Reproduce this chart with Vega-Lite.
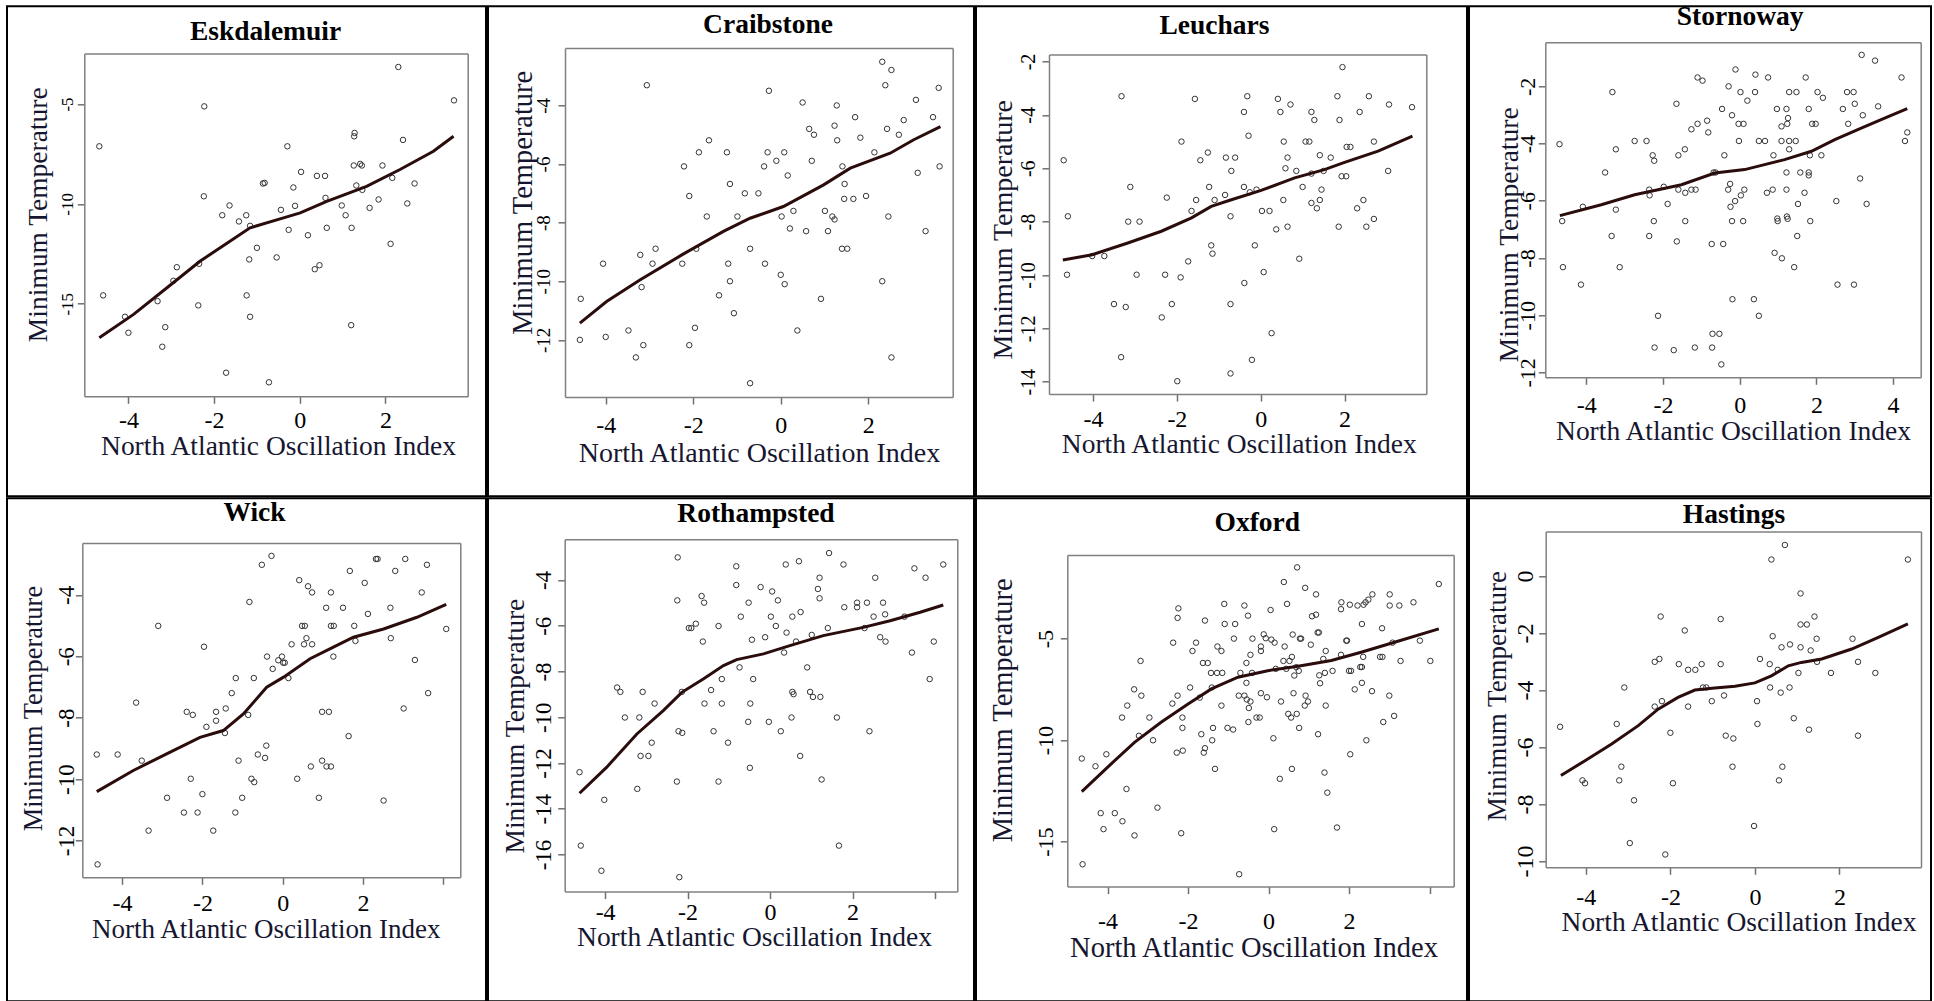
{
"$schema": "https://vega.github.io/schema/vega-lite/v6.json",
"padding": {"left": 6, "top": 1.3, "right": 2, "bottom": 0},
"background": "white",
"spacing": 0,
"config": {
 "view": {"stroke": "#000", "strokeWidth": 2},
 "font": "Liberation Serif",
 "axis": {"grid": false, "domainColor": "#808080", "domainWidth": 1.5, "tickColor": "#707070", "tickWidth": 1.5, "tickSize": 7, "labelFont": "Liberation Serif", "labelColor": "#000", "titleFont": "Liberation Serif", "titleFontWeight": "normal", "titleColor": "#161630", "labelOverlap": false, "labelFlush": false}
},
"datasets": {
 "p1_pts": [{"nao":-4.68,"tmin":-7.12},{"nao":-4.59,"tmin":-14.58},{"nao":-2.23,"tmin":-5.12},{"nao":-2.24,"tmin":-9.62},{"nao":2.30,"tmin":-3.15},{"nao":3.60,"tmin":-4.82},{"nao":1.28,"tmin":-6.45},{"nao":1.27,"tmin":-6.62},{"nao":2.41,"tmin":-6.8},{"nao":-0.29,"tmin":-7.12},{"nao":1.26,"tmin":-8.08},{"nao":1.41,"tmin":-8.0},{"nao":1.45,"tmin":-8.08},{"nao":1.93,"tmin":-8.08},{"nao":0.03,"tmin":-8.4},{"nao":0.40,"tmin":-8.6},{"nao":0.59,"tmin":-8.6},{"nao":2.16,"tmin":-8.7},{"nao":-0.82,"tmin":-8.95},{"nao":-0.86,"tmin":-8.98},{"nao":2.68,"tmin":-8.98},{"nao":-0.15,"tmin":-9.18},{"nao":1.32,"tmin":-9.08},{"nao":1.46,"tmin":-9.3},{"nao":0.60,"tmin":-9.7},{"nao":1.84,"tmin":-9.78},{"nao":2.51,"tmin":-9.98},{"nao":0.98,"tmin":-10.08},{"nao":1.63,"tmin":-10.2},{"nao":-1.64,"tmin":-10.08},{"nao":-1.81,"tmin":-10.57},{"nao":-1.25,"tmin":-10.57},{"nao":-0.44,"tmin":-10.3},{"nao":-0.11,"tmin":-10.1},{"nao":1.07,"tmin":-10.57},{"nao":-1.42,"tmin":-10.88},{"nao":-1.16,"tmin":-11.1},{"nao":-0.26,"tmin":-11.3},{"nao":0.63,"tmin":-11.2},{"nao":1.21,"tmin":-11.2},{"nao":0.19,"tmin":-11.57},{"nao":2.12,"tmin":-12.0},{"nao":-1.0,"tmin":-12.2},{"nao":-1.18,"tmin":-12.78},{"nao":-0.54,"tmin":-12.68},{"nao":-2.35,"tmin":-13.0},{"nao":-2.87,"tmin":-13.17},{"nao":0.35,"tmin":-13.27},{"nao":0.46,"tmin":-13.07},{"nao":-2.95,"tmin":-13.85},{"nao":-1.24,"tmin":-14.58},{"nao":-2.37,"tmin":-15.08},{"nao":-3.32,"tmin":-14.87},{"nao":-4.08,"tmin":-15.65},{"nao":-1.16,"tmin":-15.65},{"nao":1.20,"tmin":-16.07},{"nao":-3.14,"tmin":-16.17},{"nao":-4.0,"tmin":-16.45},{"nao":-3.21,"tmin":-17.15},{"nao":-1.72,"tmin":-18.45},{"nao":-0.72,"tmin":-18.93}],
 "p1_fit": [{"nao":-4.68,"tmin":-16.7},{"nao":-3.88,"tmin":-15.53},{"nao":-3.1,"tmin":-14.2},{"nao":-2.33,"tmin":-12.87},{"nao":-1.63,"tmin":-11.87},{"nao":-1.16,"tmin":-11.2},{"nao":-0.38,"tmin":-10.7},{"nao":0.01,"tmin":-10.45},{"nao":0.63,"tmin":-9.87},{"nao":1.56,"tmin":-9.12},{"nao":2.34,"tmin":-8.28},{"nao":3.12,"tmin":-7.37},{"nao":3.59,"tmin":-6.62}],
 "p2_pts": [{"nao":2.32,"tmin":-2.51},{"nao":2.53,"tmin":-2.79},{"nao":-3.06,"tmin":-3.31},{"nao":2.39,"tmin":-3.31},{"nao":-0.27,"tmin":-3.5},{"nao":3.61,"tmin":-3.4},{"nao":3.09,"tmin":-3.81},{"nao":0.5,"tmin":-3.9},{"nao":1.28,"tmin":-4.0},{"nao":1.70,"tmin":-4.4},{"nao":3.48,"tmin":-4.4},{"nao":2.81,"tmin":-4.5},{"nao":1.23,"tmin":-4.69},{"nao":0.65,"tmin":-4.8},{"nao":2.43,"tmin":-4.8},{"nao":0.76,"tmin":-5.0},{"nao":2.70,"tmin":-5.0},{"nao":1.82,"tmin":-5.1},{"nao":1.29,"tmin":-5.19},{"nao":-1.64,"tmin":-5.19},{"nao":-1.87,"tmin":-5.6},{"nao":-1.23,"tmin":-5.6},{"nao":-0.30,"tmin":-5.6},{"nao":0.08,"tmin":-5.6},{"nao":2.14,"tmin":-5.6},{"nao":-0.10,"tmin":-5.89},{"nao":0.71,"tmin":-5.89},{"nao":-2.21,"tmin":-6.08},{"nao":-0.38,"tmin":-6.08},{"nao":1.41,"tmin":-6.08},{"nao":3.63,"tmin":-6.08},{"nao":3.13,"tmin":-6.3},{"nao":0.16,"tmin":-6.39},{"nao":-1.16,"tmin":-6.68},{"nao":1.46,"tmin":-6.68},{"nao":-0.82,"tmin":-7.0},{"nao":-0.51,"tmin":-7.0},{"nao":-2.09,"tmin":-7.09},{"nao":1.95,"tmin":-7.09},{"nao":1.45,"tmin":-7.19},{"nao":1.66,"tmin":-7.19},{"nao":0.29,"tmin":-7.6},{"nao":1.01,"tmin":-7.6},{"nao":-1.69,"tmin":-7.79},{"nao":-0.99,"tmin":-7.79},{"nao":0.02,"tmin":-7.79},{"nao":1.18,"tmin":-7.79},{"nao":1.23,"tmin":-7.89},{"nao":2.46,"tmin":-7.79},{"nao":0.21,"tmin":-8.2},{"nao":0.58,"tmin":-8.29},{"nao":1.08,"tmin":-8.29},{"nao":3.31,"tmin":-8.29},{"nao":-2.86,"tmin":-8.89},{"nao":-1.93,"tmin":-8.89},{"nao":-0.70,"tmin":-8.89},{"nao":1.40,"tmin":-8.89},{"nao":1.52,"tmin":-8.89},{"nao":-3.21,"tmin":-9.1},{"nao":-4.06,"tmin":-9.4},{"nao":-2.93,"tmin":-9.4},{"nao":-2.25,"tmin":-9.4},{"nao":-1.20,"tmin":-9.4},{"nao":-0.36,"tmin":-9.4},{"nao":0.0,"tmin":-9.78},{"nao":-1.16,"tmin":-10.0},{"nao":0.09,"tmin":-10.1},{"nao":2.32,"tmin":-10.0},{"nao":-3.18,"tmin":-10.2},{"nao":-1.41,"tmin":-10.48},{"nao":0.92,"tmin":-10.6},{"nao":-4.57,"tmin":-10.6},{"nao":-1.07,"tmin":-11.09},{"nao":-1.96,"tmin":-11.59},{"nao":-3.48,"tmin":-11.68},{"nao":-4.0,"tmin":-11.9},{"nao":0.38,"tmin":-11.68},{"nao":-4.59,"tmin":-12.0},{"nao":-3.14,"tmin":-12.18},{"nao":-2.09,"tmin":-12.18},{"nao":-3.31,"tmin":-12.6},{"nao":2.53,"tmin":-12.6},{"nao":-0.70,"tmin":-13.48}],
 "p2_fit": [{"nao":-4.59,"tmin":-11.43},{"nao":-3.98,"tmin":-10.69},{"nao":-3.21,"tmin":-9.95},{"nao":-2.26,"tmin":-9.1},{"nao":-1.31,"tmin":-8.3},{"nao":-0.70,"tmin":-7.85},{"nao":0.06,"tmin":-7.45},{"nao":0.98,"tmin":-6.71},{"nao":1.59,"tmin":-6.14},{"nao":2.50,"tmin":-5.63},{"nao":3.04,"tmin":-5.17},{"nao":3.65,"tmin":-4.72}],
 "p3_pts": [{"nao":1.95,"tmin":-2.21},{"nao":-3.32,"tmin":-3.3},{"nao":-1.57,"tmin":-3.4},{"nao":-0.32,"tmin":-3.3},{"nao":0.41,"tmin":-3.4},{"nao":1.83,"tmin":-3.3},{"nao":2.58,"tmin":-3.3},{"nao":0.71,"tmin":-3.61},{"nao":3.06,"tmin":-3.61},{"nao":3.61,"tmin":-3.71},{"nao":-0.40,"tmin":-3.89},{"nao":0.47,"tmin":-3.89},{"nao":1.21,"tmin":-3.89},{"nao":2.36,"tmin":-3.89},{"nao":1.28,"tmin":-4.19},{"nao":1.88,"tmin":-4.19},{"nao":-0.29,"tmin":-4.78},{"nao":-1.89,"tmin":-5.0},{"nao":0.55,"tmin":-5.0},{"nao":1.07,"tmin":-5.0},{"nao":1.16,"tmin":-5.0},{"nao":2.70,"tmin":-5.0},{"nao":2.05,"tmin":-5.2},{"nao":2.14,"tmin":-5.2},{"nao":-1.26,"tmin":-5.41},{"nao":-4.70,"tmin":-5.7},{"nao":-1.44,"tmin":-5.7},{"nao":-0.83,"tmin":-5.6},{"nao":-0.61,"tmin":-5.6},{"nao":0.64,"tmin":-5.6},{"nao":1.41,"tmin":-5.51},{"nao":1.67,"tmin":-5.6},{"nao":0.59,"tmin":-6.0},{"nao":-0.70,"tmin":-6.1},{"nao":0.85,"tmin":-6.1},{"nao":1.21,"tmin":-6.2},{"nao":1.50,"tmin":-6.1},{"nao":1.93,"tmin":-6.3},{"nao":2.04,"tmin":-6.3},{"nao":3.04,"tmin":-6.1},{"nao":-3.11,"tmin":-6.7},{"nao":-1.23,"tmin":-6.7},{"nao":-0.40,"tmin":-6.7},{"nao":1.0,"tmin":-6.7},{"nao":-0.26,"tmin":-6.9},{"nao":-0.10,"tmin":-6.8},{"nao":1.45,"tmin":-6.8},{"nao":-2.24,"tmin":-7.1},{"nao":-0.85,"tmin":-7.0},{"nao":-1.54,"tmin":-7.19},{"nao":-1.10,"tmin":-7.19},{"nao":0.54,"tmin":-7.19},{"nao":1.21,"tmin":-7.3},{"nao":1.41,"tmin":-7.19},{"nao":2.45,"tmin":-7.19},{"nao":1.34,"tmin":-7.5},{"nao":2.30,"tmin":-7.5},{"nao":-1.65,"tmin":-7.6},{"nao":0.03,"tmin":-7.6},{"nao":0.21,"tmin":-7.6},{"nao":-4.60,"tmin":-7.8},{"nao":-0.72,"tmin":-7.8},{"nao":2.70,"tmin":-7.9},{"nao":-3.16,"tmin":-8.0},{"nao":-2.89,"tmin":-8.0},{"nao":0.64,"tmin":-8.19},{"nao":1.86,"tmin":-8.19},{"nao":2.52,"tmin":-8.19},{"nao":0.37,"tmin":-8.29},{"nao":-1.18,"tmin":-8.89},{"nao":-0.14,"tmin":-8.89},{"nao":-1.15,"tmin":-9.2},{"nao":-4.02,"tmin":-9.29},{"nao":-3.73,"tmin":-9.29},{"nao":0.92,"tmin":-9.39},{"nao":-1.73,"tmin":-9.49},{"nao":0.07,"tmin":-9.89},{"nao":-4.62,"tmin":-9.99},{"nao":-2.96,"tmin":-9.99},{"nao":-2.28,"tmin":-9.99},{"nao":-1.91,"tmin":-10.09},{"nao":-0.39,"tmin":-10.3},{"nao":-3.50,"tmin":-11.09},{"nao":-2.12,"tmin":-11.09},{"nao":-0.72,"tmin":-11.09},{"nao":-3.22,"tmin":-11.2},{"nao":-2.36,"tmin":-11.59},{"nao":0.26,"tmin":-12.18},{"nao":-3.33,"tmin":-13.08},{"nao":-0.21,"tmin":-13.18},{"nao":-0.72,"tmin":-13.69},{"nao":-1.99,"tmin":-13.98}],
 "p3_fit": [{"nao":-4.72,"tmin":-9.44},{"nao":-4.02,"tmin":-9.24},{"nao":-3.17,"tmin":-8.8},{"nao":-2.37,"tmin":-8.36},{"nao":-1.65,"tmin":-7.86},{"nao":-1.18,"tmin":-7.43},{"nao":-0.70,"tmin":-7.18},{"nao":0.01,"tmin":-6.83},{"nao":0.81,"tmin":-6.36},{"nao":1.52,"tmin":-6.05},{"nao":2.0,"tmin":-5.78},{"nao":2.80,"tmin":-5.36},{"nao":3.62,"tmin":-4.8}],
 "p4_pts": [{"nao":3.18,"tmin":-0.90},{"nao":3.53,"tmin":-1.10},{"nao":-0.11,"tmin":-1.41},{"nao":0.41,"tmin":-1.59},{"nao":-1.10,"tmin":-1.69},{"nao":-0.97,"tmin":-1.80},{"nao":0.74,"tmin":-1.69},{"nao":1.72,"tmin":-1.69},{"nao":4.22,"tmin":-1.69},{"nao":-0.29,"tmin":-2.0},{"nao":-3.32,"tmin":-2.20},{"nao":0.02,"tmin":-2.20},{"nao":0.40,"tmin":-2.20},{"nao":1.29,"tmin":-2.20},{"nao":1.48,"tmin":-2.20},{"nao":2.03,"tmin":-2.20},{"nao":2.80,"tmin":-2.20},{"nao":2.97,"tmin":-2.20},{"nao":2.17,"tmin":-2.40},{"nao":0.20,"tmin":-2.50},{"nao":-1.65,"tmin":-2.61},{"nao":3.0,"tmin":-2.61},{"nao":-0.46,"tmin":-2.79},{"nao":0.97,"tmin":-2.79},{"nao":1.22,"tmin":-2.79},{"nao":1.80,"tmin":-2.79},{"nao":2.69,"tmin":-2.79},{"nao":3.61,"tmin":-2.70},{"nao":-0.20,"tmin":-3.01},{"nao":1.26,"tmin":-3.11},{"nao":3.21,"tmin":-3.01},{"nao":-0.85,"tmin":-3.20},{"nao":-1.10,"tmin":-3.31},{"nao":-0.03,"tmin":-3.31},{"nao":0.10,"tmin":-3.31},{"nao":1.24,"tmin":-3.31},{"nao":1.89,"tmin":-3.31},{"nao":1.98,"tmin":-3.31},{"nao":2.83,"tmin":-3.31},{"nao":1.09,"tmin":-3.40},{"nao":-1.26,"tmin":-3.50},{"nao":-0.82,"tmin":-3.61},{"nao":4.37,"tmin":-3.61},{"nao":-2.74,"tmin":-3.91},{"nao":-2.43,"tmin":-3.91},{"nao":-0.02,"tmin":-3.91},{"nao":0.50,"tmin":-3.91},{"nao":0.66,"tmin":-3.91},{"nao":1.09,"tmin":-3.91},{"nao":1.29,"tmin":-3.91},{"nao":1.46,"tmin":-3.91},{"nao":4.31,"tmin":-3.91},{"nao":-4.70,"tmin":-4.02},{"nao":-3.23,"tmin":-4.20},{"nao":-1.43,"tmin":-4.20},{"nao":1.29,"tmin":-4.20},{"nao":-2.27,"tmin":-4.41},{"nao":-1.60,"tmin":-4.41},{"nao":-0.40,"tmin":-4.41},{"nao":0.88,"tmin":-4.41},{"nao":1.83,"tmin":-4.41},{"nao":2.13,"tmin":-4.41},{"nao":-2.23,"tmin":-4.60},{"nao":-3.51,"tmin":-5.01},{"nao":-0.68,"tmin":-5.01},{"nao":-0.63,"tmin":-5.01},{"nao":1.22,"tmin":-5.01},{"nao":1.58,"tmin":-5.01},{"nao":1.80,"tmin":-5.01},{"nao":1.80,"tmin":-5.11},{"nao":3.14,"tmin":-5.22},{"nao":-1.98,"tmin":-5.51},{"nao":-0.25,"tmin":-5.41},{"nao":-2.36,"tmin":-5.61},{"nao":-1.60,"tmin":-5.61},{"nao":-1.26,"tmin":-5.61},{"nao":-1.15,"tmin":-5.61},{"nao":-0.30,"tmin":-5.61},{"nao":0.12,"tmin":-5.61},{"nao":0.86,"tmin":-5.61},{"nao":1.22,"tmin":-5.61},{"nao":-2.35,"tmin":-5.81},{"nao":-1.42,"tmin":-5.72},{"nao":0.03,"tmin":-5.81},{"nao":0.71,"tmin":-5.72},{"nao":1.69,"tmin":-5.72},{"nao":-0.12,"tmin":-6.01},{"nao":2.52,"tmin":-6.01},{"nao":-1.88,"tmin":-6.11},{"nao":1.52,"tmin":-6.11},{"nao":3.31,"tmin":-6.11},{"nao":-4.09,"tmin":-6.21},{"nao":-0.24,"tmin":-6.21},{"nao":-3.23,"tmin":-6.31},{"nao":0.98,"tmin":-6.62},{"nao":1.23,"tmin":-6.55},{"nao":1.25,"tmin":-6.63},{"nao":-4.63,"tmin":-6.71},{"nao":-2.24,"tmin":-6.71},{"nao":-1.42,"tmin":-6.71},{"nao":-0.20,"tmin":-6.71},{"nao":0.09,"tmin":-6.71},{"nao":0.99,"tmin":-6.71},{"nao":1.84,"tmin":-6.71},{"nao":-3.34,"tmin":-7.23},{"nao":-2.36,"tmin":-7.23},{"nao":1.50,"tmin":-7.23},{"nao":-1.64,"tmin":-7.42},{"nao":-0.73,"tmin":-7.51},{"nao":-0.43,"tmin":-7.51},{"nao":0.91,"tmin":-7.82},{"nao":1.10,"tmin":-8.01},{"nao":-4.61,"tmin":-8.32},{"nao":-3.13,"tmin":-8.32},{"nao":1.42,"tmin":-8.32},{"nao":-4.14,"tmin":-8.93},{"nao":2.55,"tmin":-8.93},{"nao":2.98,"tmin":-8.93},{"nao":-0.19,"tmin":-9.44},{"nao":0.37,"tmin":-9.44},{"nao":-2.13,"tmin":-10.02},{"nao":0.50,"tmin":-10.02},{"nao":-0.71,"tmin":-10.65},{"nao":-0.53,"tmin":-10.65},{"nao":-2.22,"tmin":-11.13},{"nao":-1.17,"tmin":-11.13},{"nao":-0.72,"tmin":-11.13},{"nao":-1.72,"tmin":-11.22},{"nao":-0.48,"tmin":-11.72}],
 "p4_fit": [{"nao":-4.69,"tmin":-6.52},{"nao":-3.61,"tmin":-6.14},{"nao":-2.74,"tmin":-5.79},{"nao":-1.52,"tmin":-5.44},{"nao":-0.65,"tmin":-5.03},{"nao":0.13,"tmin":-4.91},{"nao":1.17,"tmin":-4.56},{"nao":1.87,"tmin":-4.27},{"nao":2.48,"tmin":-3.86},{"nao":3.17,"tmin":-3.46},{"nao":3.78,"tmin":-3.11},{"nao":4.37,"tmin":-2.78}],
 "p5_pts": [{"nao":-0.28,"tmin":-2.73},{"nao":2.32,"tmin":-2.83},{"nao":2.36,"tmin":-2.83},{"nao":3.05,"tmin":-2.83},{"nao":-0.52,"tmin":-3.02},{"nao":3.59,"tmin":-3.02},{"nao":1.67,"tmin":-3.22},{"nao":2.80,"tmin":-3.22},{"nao":0.41,"tmin":-3.52},{"nao":2.04,"tmin":-3.61},{"nao":0.63,"tmin":-3.72},{"nao":0.73,"tmin":-3.92},{"nao":1.20,"tmin":-3.92},{"nao":3.46,"tmin":-3.92},{"nao":-0.83,"tmin":-4.23},{"nao":1.08,"tmin":-4.42},{"nao":1.50,"tmin":-4.42},{"nao":2.68,"tmin":-4.42},{"nao":2.12,"tmin":-4.62},{"nao":-3.10,"tmin":-5.01},{"nao":0.48,"tmin":-5.01},{"nao":0.55,"tmin":-5.01},{"nao":1.20,"tmin":-5.01},{"nao":1.27,"tmin":-5.01},{"nao":1.78,"tmin":-5.01},{"nao":4.07,"tmin":-5.11},{"nao":0.59,"tmin":-5.41},{"nao":2.69,"tmin":-5.41},{"nao":1.81,"tmin":-5.50},{"nao":-1.96,"tmin":-5.69},{"nao":0.22,"tmin":-5.61},{"nao":0.53,"tmin":-5.61},{"nao":0.73,"tmin":-5.61},{"nao":-0.39,"tmin":-6.01},{"nao":-0.02,"tmin":-6.01},{"nao":1.26,"tmin":-6.01},{"nao":-0.11,"tmin":-6.13},{"nao":0.01,"tmin":-6.21},{"nao":0.05,"tmin":-6.21},{"nao":3.29,"tmin":-6.12},{"nao":-0.25,"tmin":-6.41},{"nao":-1.17,"tmin":-6.71},{"nao":-0.72,"tmin":-6.71},{"nao":0.14,"tmin":-6.71},{"nao":-1.27,"tmin":-7.20},{"nao":3.62,"tmin":-7.20},{"nao":-3.65,"tmin":-7.51},{"nao":-1.42,"tmin":-7.70},{"nao":3.01,"tmin":-7.70},{"nao":-2.39,"tmin":-7.81},{"nao":-2.24,"tmin":-7.91},{"nao":-1.66,"tmin":-7.81},{"nao":0.98,"tmin":-7.81},{"nao":1.15,"tmin":-7.81},{"nao":-0.86,"tmin":-7.91},{"nao":-1.66,"tmin":-8.10},{"nao":-1.90,"tmin":-8.30},{"nao":-1.44,"tmin":-8.50},{"nao":1.64,"tmin":-8.60},{"nao":-0.41,"tmin":-8.91},{"nao":-4.63,"tmin":-9.20},{"nao":-4.11,"tmin":-9.20},{"nao":-0.62,"tmin":-9.20},{"nao":-0.44,"tmin":-9.31},{"nao":-3.51,"tmin":-9.40},{"nao":-1.10,"tmin":-9.40},{"nao":0.98,"tmin":-9.40},{"nao":0.70,"tmin":-9.59},{"nao":1.09,"tmin":-9.59},{"nao":1.20,"tmin":-9.59},{"nao":-2.29,"tmin":-9.99},{"nao":-0.78,"tmin":-9.99},{"nao":-0.71,"tmin":-10.10},{"nao":0.36,"tmin":-9.99},{"nao":-2.0,"tmin":-10.49},{"nao":-2.88,"tmin":-10.61},{"nao":-1.01,"tmin":-10.61},{"nao":0.90,"tmin":-10.61},{"nao":2.51,"tmin":-10.70},{"nao":-2.46,"tmin":-11.09},{"nao":-2.12,"tmin":-11.09},{"nao":-1.18,"tmin":-11.09},{"nao":-3.34,"tmin":-11.68},{"nao":-1.73,"tmin":-11.68},{"nao":-4.61,"tmin":-12.78}],
 "p5_fit": [{"nao":-4.63,"tmin":-10.41},{"nao":-3.72,"tmin":-9.72},{"nao":-2.89,"tmin":-9.18},{"nao":-2.06,"tmin":-8.64},{"nao":-1.48,"tmin":-8.42},{"nao":-0.98,"tmin":-7.88},{"nao":-0.40,"tmin":-7.01},{"nao":0.02,"tmin":-6.68},{"nao":0.68,"tmin":-6.08},{"nao":1.26,"tmin":-5.70},{"nao":1.76,"tmin":-5.38},{"nao":2.51,"tmin":-5.11},{"nao":3.34,"tmin":-4.73},{"nao":4.07,"tmin":-4.31}],
 "p6_pts": [{"nao":1.43,"tmin":-2.82},{"nao":-2.24,"tmin":-3.01},{"nao":0.70,"tmin":-3.18},{"nao":-0.82,"tmin":-3.40},{"nao":0.38,"tmin":-3.32},{"nao":1.78,"tmin":-3.32},{"nao":4.20,"tmin":-3.32},{"nao":3.50,"tmin":-3.49},{"nao":1.20,"tmin":-3.90},{"nao":2.55,"tmin":-3.90},{"nao":3.77,"tmin":-3.90},{"nao":-0.82,"tmin":-4.22},{"nao":-0.23,"tmin":-4.31},{"nao":1.16,"tmin":-4.39},{"nao":0.05,"tmin":-4.50},{"nao":-1.66,"tmin":-4.70},{"nao":-2.25,"tmin":-4.89},{"nao":-1.60,"tmin":-4.99},{"nao":-0.52,"tmin":-4.99},{"nao":0.19,"tmin":-4.89},{"nao":1.20,"tmin":-4.80},{"nao":2.11,"tmin":-4.99},{"nao":2.35,"tmin":-4.99},{"nao":2.74,"tmin":-4.99},{"nao":1.80,"tmin":-5.19},{"nao":2.11,"tmin":-5.19},{"nao":0.74,"tmin":-5.40},{"nao":-0.71,"tmin":-5.60},{"nao":0.02,"tmin":-5.60},{"nao":0.54,"tmin":-5.60},{"nao":2.51,"tmin":-5.60},{"nao":2.79,"tmin":-5.50},{"nao":3.26,"tmin":-5.60},{"nao":-1.80,"tmin":-5.91},{"nao":-1.97,"tmin":-6.10},{"nao":-1.91,"tmin":-6.10},{"nao":-1.25,"tmin":-6.01},{"nao":0.14,"tmin":-6.01},{"nao":1.40,"tmin":-6.10},{"nao":2.29,"tmin":-6.10},{"nao":0.40,"tmin":-6.30},{"nao":1.01,"tmin":-6.40},{"nao":-0.12,"tmin":-6.50},{"nao":2.67,"tmin":-6.50},{"nao":-0.44,"tmin":-6.61},{"nao":-1.63,"tmin":-6.69},{"nao":0.63,"tmin":-6.69},{"nao":2.80,"tmin":-6.69},{"nao":3.97,"tmin":-6.69},{"nao":0.34,"tmin":-7.17},{"nao":3.44,"tmin":-7.17},{"nao":-0.74,"tmin":-7.82},{"nao":0.90,"tmin":-7.82},{"nao":-1.17,"tmin":-8.33},{"nao":-0.41,"tmin":-8.33},{"nao":3.87,"tmin":-8.33},{"nao":-3.71,"tmin":-8.70},{"nao":-3.63,"tmin":-8.89},{"nao":-3.09,"tmin":-8.89},{"nao":-2.14,"tmin":-8.89},{"nao":-1.43,"tmin":-8.81},{"nao":0.54,"tmin":-8.89},{"nao":0.57,"tmin":-8.99},{"nao":0.97,"tmin":-8.89},{"nao":1.04,"tmin":-9.11},{"nao":1.22,"tmin":-9.11},{"nao":-2.80,"tmin":-9.40},{"nao":-1.59,"tmin":-9.40},{"nao":-1.17,"tmin":-9.40},{"nao":-0.48,"tmin":-9.40},{"nao":-3.52,"tmin":-10.01},{"nao":-3.17,"tmin":-10.01},{"nao":0.52,"tmin":-10.01},{"nao":1.62,"tmin":-10.01},{"nao":-0.53,"tmin":-10.20},{"nao":-0.03,"tmin":-10.20},{"nao":-2.22,"tmin":-10.61},{"nao":-2.13,"tmin":-10.68},{"nao":-1.37,"tmin":-10.61},{"nao":0.26,"tmin":-10.61},{"nao":2.41,"tmin":-10.61},{"nao":-2.87,"tmin":-11.11},{"nao":-1.02,"tmin":-11.11},{"nao":-3.14,"tmin":-11.69},{"nao":-2.95,"tmin":-11.69},{"nao":0.73,"tmin":-11.69},{"nao":-0.49,"tmin":-12.21},{"nao":-4.62,"tmin":-12.40},{"nao":-2.26,"tmin":-12.81},{"nao":-1.25,"tmin":-12.81},{"nao":1.25,"tmin":-12.72},{"nao":-3.22,"tmin":-13.13},{"nao":-4.02,"tmin":-13.61},{"nao":-4.59,"tmin":-15.61},{"nao":1.67,"tmin":-15.61},{"nao":-4.09,"tmin":-16.71},{"nao":-2.20,"tmin":-16.99}],
 "p6_fit": [{"nao":-4.62,"tmin":-13.32},{"nao":-3.96,"tmin":-12.18},{"nao":-3.23,"tmin":-10.73},{"nao":-2.59,"tmin":-9.71},{"nao":-2.14,"tmin":-8.91},{"nao":-1.62,"tmin":-8.33},{"nao":-1.13,"tmin":-7.74},{"nao":-0.81,"tmin":-7.48},{"nao":-0.16,"tmin":-7.23},{"nao":0.48,"tmin":-6.87},{"nao":1.29,"tmin":-6.43},{"nao":2.26,"tmin":-6.07},{"nao":2.91,"tmin":-5.78},{"nao":3.64,"tmin":-5.41},{"nao":4.20,"tmin":-5.09}],
 "p7_pts": [{"nao":0.71,"tmin":-1.49},{"nao":0.38,"tmin":-2.21},{"nao":4.23,"tmin":-2.31},{"nao":0.91,"tmin":-2.50},{"nao":1.18,"tmin":-2.82},{"nao":2.58,"tmin":-2.82},{"nao":3.01,"tmin":-2.82},{"nao":1.81,"tmin":-3.21},{"nao":3.60,"tmin":-3.21},{"nao":-1.10,"tmin":-3.29},{"nao":0.46,"tmin":-3.29},{"nao":2.02,"tmin":-3.33},{"nao":2.21,"tmin":-3.37},{"nao":2.41,"tmin":-3.21},{"nao":2.36,"tmin":-3.33},{"nao":2.48,"tmin":-3.08},{"nao":-0.60,"tmin":-3.37},{"nao":3.01,"tmin":-3.37},{"nao":3.25,"tmin":-3.37},{"nao":-2.24,"tmin":-3.51},{"nao":1.80,"tmin":-3.55},{"nao":0.05,"tmin":-3.59},{"nao":-0.51,"tmin":-3.87},{"nao":1.08,"tmin":-3.90},{"nao":1.18,"tmin":-3.82},{"nao":-2.26,"tmin":-3.98},{"nao":-1.58,"tmin":-4.11},{"nao":-1.09,"tmin":-4.28},{"nao":-0.83,"tmin":-4.28},{"nao":2.32,"tmin":-4.28},{"nao":2.82,"tmin":-4.49},{"nao":1.22,"tmin":-4.70},{"nao":1.25,"tmin":-4.70},{"nao":-0.12,"tmin":-4.79},{"nao":0.60,"tmin":-4.80},{"nao":-0.86,"tmin":-5.0},{"nao":-0.40,"tmin":-5.0},{"nao":-0.07,"tmin":-4.98},{"nao":0.07,"tmin":-5.05},{"nao":0.78,"tmin":-5.0},{"nao":0.81,"tmin":-5.0},{"nao":1.93,"tmin":-5.10},{"nao":1.95,"tmin":-5.10},{"nao":3.76,"tmin":-5.10},{"nao":-2.37,"tmin":-5.20},{"nao":-1.80,"tmin":-5.20},{"nao":0.15,"tmin":-5.20},{"nao":1.05,"tmin":-5.30},{"nao":3.08,"tmin":-5.20},{"nao":-1.27,"tmin":-5.39},{"nao":-0.19,"tmin":-5.39},{"nao":0.40,"tmin":-5.39},{"nao":-1.89,"tmin":-5.61},{"nao":-1.17,"tmin":-5.61},{"nao":-0.19,"tmin":-5.61},{"nao":1.42,"tmin":-5.61},{"nao":-0.45,"tmin":-5.80},{"nao":0.58,"tmin":-5.90},{"nao":1.80,"tmin":-5.80},{"nao":2.35,"tmin":-5.90},{"nao":2.77,"tmin":-5.90},{"nao":2.83,"tmin":-5.90},{"nao":-3.18,"tmin":-6.10},{"nao":-1.63,"tmin":-6.20},{"nao":-1.51,"tmin":-6.20},{"nao":-0.55,"tmin":-6.20},{"nao":0.37,"tmin":-6.10},{"nao":0.52,"tmin":-6.10},{"nao":1.36,"tmin":-6.0},{"nao":3.28,"tmin":-6.10},{"nao":4.02,"tmin":-6.10},{"nao":0.44,"tmin":-6.49},{"nao":0.69,"tmin":-6.41},{"nao":0.18,"tmin":-6.49},{"nao":-1.43,"tmin":-6.69},{"nao":-1.28,"tmin":-6.69},{"nao":-1.15,"tmin":-6.69},{"nao":-0.70,"tmin":-6.69},{"nao":-0.41,"tmin":-6.69},{"nao":0.75,"tmin":-6.59},{"nao":1.40,"tmin":-6.69},{"nao":1.59,"tmin":-6.59},{"nao":2.0,"tmin":-6.59},{"nao":2.05,"tmin":-6.59},{"nao":2.28,"tmin":-6.40},{"nao":2.32,"tmin":-6.40},{"nao":0.64,"tmin":-6.82},{"nao":1.26,"tmin":-6.81},{"nao":1.28,"tmin":-7.20},{"nao":-0.55,"tmin":-7.18},{"nao":2.32,"tmin":-7.18},{"nao":-1.41,"tmin":-7.41},{"nao":-1.95,"tmin":-7.41},{"nao":-3.34,"tmin":-7.50},{"nao":2.14,"tmin":-7.50},{"nao":2.57,"tmin":-7.59},{"nao":0.62,"tmin":-7.69},{"nao":-0.19,"tmin":-7.69},{"nao":-3.16,"tmin":-7.81},{"nao":-2.26,"tmin":-7.81},{"nao":-0.74,"tmin":-7.81},{"nao":-0.60,"tmin":-7.81},{"nao":-0.04,"tmin":-7.89},{"nao":0.92,"tmin":-7.81},{"nao":3.0,"tmin":-7.81},{"nao":-1.71,"tmin":-7.91},{"nao":-0.54,"tmin":-8.0},{"nao":-0.45,"tmin":-8.10},{"nao":0.31,"tmin":-8.10},{"nao":0.98,"tmin":-8.10},{"nao":-2.39,"tmin":-8.20},{"nao":-3.51,"tmin":-8.30},{"nao":-1.17,"tmin":-8.30},{"nao":1.42,"tmin":-8.30},{"nao":0.90,"tmin":-8.30},{"nao":-0.49,"tmin":-8.42},{"nao":0.49,"tmin":-8.71},{"nao":0.70,"tmin":-8.71},{"nao":3.12,"tmin":-8.81},{"nao":-3.64,"tmin":-8.89},{"nao":-2.96,"tmin":-8.89},{"nao":-2.14,"tmin":-8.89},{"nao":-0.30,"tmin":-8.89},{"nao":-0.22,"tmin":-8.89},{"nao":0.56,"tmin":-8.89},{"nao":2.85,"tmin":-9.11},{"nao":-0.50,"tmin":-9.11},{"nao":-2.14,"tmin":-9.40},{"nao":-1.38,"tmin":-9.40},{"nao":-1.02,"tmin":-9.40},{"nao":-0.88,"tmin":-9.48},{"nao":0.76,"tmin":-9.40},{"nao":-3.22,"tmin":-9.79},{"nao":-1.67,"tmin":-9.71},{"nao":1.23,"tmin":-9.71},{"nao":-2.87,"tmin":-10.01},{"nao":-1.40,"tmin":-10.01},{"nao":0.12,"tmin":-9.91},{"nao":2.43,"tmin":-10.01},{"nao":-1.58,"tmin":-10.40},{"nao":-2.28,"tmin":-10.62},{"nao":-2.13,"tmin":-10.52},{"nao":-1.61,"tmin":-10.62},{"nao":-4.03,"tmin":-10.70},{"nao":2.03,"tmin":-10.70},{"nao":-4.64,"tmin":-10.91},{"nao":-4.30,"tmin":-11.29},{"nao":-1.33,"tmin":-11.42},{"nao":0.58,"tmin":-11.42},{"nao":1.39,"tmin":-11.60},{"nao":0.28,"tmin":-11.91},{"nao":-3.53,"tmin":-12.41},{"nao":1.46,"tmin":-12.59},{"nao":-2.76,"tmin":-13.33},{"nao":-4.17,"tmin":-13.60},{"nao":-3.82,"tmin":-13.60},{"nao":-3.63,"tmin":-14.0},{"nao":-4.10,"tmin":-14.39},{"nao":1.70,"tmin":-14.31},{"nao":0.14,"tmin":-14.39},{"nao":-2.17,"tmin":-14.59},{"nao":-3.33,"tmin":-14.70},{"nao":-4.62,"tmin":-16.12},{"nao":-0.73,"tmin":-16.61}],
 "p7_fit": [{"nao":-4.64,"tmin":-12.54},{"nao":-3.91,"tmin":-11.17},{"nao":-3.33,"tmin":-10.11},{"nao":-2.67,"tmin":-9.12},{"nao":-2.0,"tmin":-8.22},{"nao":-1.42,"tmin":-7.48},{"nao":-0.76,"tmin":-6.90},{"nao":-0.02,"tmin":-6.58},{"nao":0.73,"tmin":-6.36},{"nao":1.56,"tmin":-6.08},{"nao":2.30,"tmin":-5.67},{"nao":3.13,"tmin":-5.18},{"nao":4.23,"tmin":-4.52}],
 "p8_pts": [{"nao":0.71,"tmin":1.09},{"nao":0.39,"tmin":0.58},{"nao":3.62,"tmin":0.58},{"nao":1.08,"tmin":-0.61},{"nao":-2.23,"tmin":-1.42},{"nao":-0.81,"tmin":-1.51},{"nao":1.41,"tmin":-1.42},{"nao":1.08,"tmin":-1.70},{"nao":1.23,"tmin":-1.70},{"nao":-1.66,"tmin":-1.91},{"nao":0.42,"tmin":-2.11},{"nao":1.46,"tmin":-2.20},{"nao":2.31,"tmin":-2.20},{"nao":0.83,"tmin":-2.40},{"nao":0.63,"tmin":-2.50},{"nao":1.08,"tmin":-2.50},{"nao":1.32,"tmin":-2.61},{"nao":0.12,"tmin":-2.91},{"nao":-2.37,"tmin":-3.01},{"nao":-2.26,"tmin":-2.91},{"nao":2.44,"tmin":-3.01},{"nao":1.47,"tmin":-3.01},{"nao":-1.80,"tmin":-3.09},{"nao":-1.26,"tmin":-3.09},{"nao":-0.81,"tmin":-3.09},{"nao":0.35,"tmin":-3.09},{"nao":-1.58,"tmin":-3.29},{"nao":-1.41,"tmin":-3.29},{"nao":0.54,"tmin":-3.29},{"nao":1.03,"tmin":-3.40},{"nao":1.80,"tmin":-3.40},{"nao":2.85,"tmin":-3.40},{"nao":-3.09,"tmin":-3.91},{"nao":-1.23,"tmin":-3.91},{"nao":-1.15,"tmin":-3.91},{"nao":0.36,"tmin":-3.91},{"nao":0.82,"tmin":-3.91},{"nao":0.61,"tmin":-4.09},{"nao":-0.73,"tmin":-4.19},{"nao":-2.20,"tmin":-4.39},{"nao":-1.02,"tmin":-4.39},{"nao":0.05,"tmin":-4.39},{"nao":-2.37,"tmin":-4.58},{"nao":-1.58,"tmin":-4.58},{"nao":0.92,"tmin":-4.99},{"nao":-3.27,"tmin":-5.19},{"nao":0.06,"tmin":-5.19},{"nao":-4.61,"tmin":-5.29},{"nao":1.28,"tmin":-5.39},{"nao":-2.0,"tmin":-5.50},{"nao":-0.69,"tmin":-5.60},{"nao":-0.51,"tmin":-5.70},{"nao":2.44,"tmin":-5.60},{"nao":-3.16,"tmin":-6.69},{"nao":-0.53,"tmin":-6.69},{"nao":0.65,"tmin":-6.69},{"nao":-4.08,"tmin":-7.17},{"nao":-4.02,"tmin":-7.27},{"nao":-3.21,"tmin":-7.17},{"nao":0.57,"tmin":-7.17},{"nao":-1.94,"tmin":-7.27},{"nao":-2.86,"tmin":-7.87},{"nao":-0.02,"tmin":-8.77},{"nao":-2.96,"tmin":-9.37},{"nao":-2.12,"tmin":-9.77}],
 "p8_fit": [{"nao":-4.59,"tmin":-7.0},{"nao":-4.02,"tmin":-6.48},{"nao":-3.39,"tmin":-5.89},{"nao":-2.76,"tmin":-5.25},{"nao":-2.29,"tmin":-4.67},{"nao":-1.82,"tmin":-4.26},{"nao":-1.42,"tmin":-4.0},{"nao":-0.95,"tmin":-3.93},{"nao":-0.47,"tmin":-3.87},{"nao":0.0,"tmin":-3.75},{"nao":0.39,"tmin":-3.50},{"nao":0.79,"tmin":-3.15},{"nao":1.10,"tmin":-3.03},{"nao":1.58,"tmin":-2.91},{"nao":2.29,"tmin":-2.56},{"nao":2.92,"tmin":-2.15},{"nao":3.62,"tmin":-1.68}]
},
"vconcat": [
 {"spacing": 0, "hconcat": [
  {"width": 479, "height": 490,
   "resolve": {"axis": {"x": "independent", "y": "independent"}},
   "layer": [
    {"data": {"name": "p1_pts"}, "mark": {"type": "point", "shape": "circle", "filled": false, "size": 30, "stroke": "#333", "strokeWidth": 1, "opacity": 1},
     "encoding": {
      "x": {"field": "nao", "type": "quantitative", "scale": {"domain": [-5.03, 3.92], "range": [77.3, 460.7], "nice": false, "zero": false},
            "axis": {"orient": "bottom", "offset": -100, "values": [-4, -2, 0, 2], "labelPadding": 24.7, "labelFontSize": 24, "labelBaseline": "alphabetic", "labelExpr": "datum.value + ''", "title": "North Atlantic Oscillation Index", "titleX": 271, "titleY": 58.3, "titleAlign": "center", "titleBaseline": "alphabetic", "titleAngle": 0, "titleFontSize": 27.5}},
      "y": {"field": "tmin", "type": "quantitative", "scale": {"domain": [-19.63, -2.48], "range": [390, 47.3], "nice": false, "zero": false},
            "axis": {"orient": "left", "offset": -77.3, "values": [-15, -10, -5], "labelPadding": 4.6, "labelFontSize": 17, "labelAngle": 270, "labelAlign": "center", "labelBaseline": "alphabetic", "labelExpr": "datum.value + ''", "title": "Minimum Temperature", "titleX": -38.3, "titleY": 208, "titleAngle": 270, "titleAlign": "center", "titleBaseline": "alphabetic", "titleFontSize": 27.5}}}},
    {"data": {"name": "p1_fit"}, "mark": {"type": "line", "color": "#2b0c0c", "strokeWidth": 3},
     "encoding": {
      "x": {"field": "nao", "type": "quantitative", "scale": {"domain": [-5.03, 3.92], "range": [77.3, 460.7], "nice": false, "zero": false}, "axis": {"orient": "top", "offset": -47.3, "labels": false, "ticks": false, "title": "Eskdalemuir", "titleFontWeight": "bold", "titleFontSize": 27.5, "titleColor": "#000", "titleX": 258, "titleY": -14, "titleAlign": "center", "titleBaseline": "alphabetic", "titleAngle": 0}},
      "y": {"field": "tmin", "type": "quantitative", "scale": {"domain": [-19.63, -2.48], "range": [390, 47.3], "nice": false, "zero": false}, "axis": {"orient": "right", "offset": -18.3, "labels": false, "ticks": false, "title": null}}}}
   ]},
  {"width": 486, "height": 490,
   "resolve": {"axis": {"x": "independent", "y": "independent"}},
   "layer": [
    {"data": {"name": "p2_pts"}, "mark": {"type": "point", "shape": "circle", "filled": false, "size": 30, "stroke": "#333", "strokeWidth": 1, "opacity": 1},
     "encoding": {
      "x": {"field": "nao", "type": "quantitative", "scale": {"domain": [-4.93, 3.93], "range": [77, 464.7], "nice": false, "zero": false},
            "axis": {"orient": "bottom", "offset": -99.3, "values": [-4, -2, 0, 2], "labelPadding": 29, "labelFontSize": 24, "labelBaseline": "alphabetic", "labelExpr": "datum.value + ''", "title": "North Atlantic Oscillation Index", "titleX": 271, "titleY": 64.3, "titleAlign": "center", "titleBaseline": "alphabetic", "titleAngle": 0, "titleFontSize": 28}},
      "y": {"field": "tmin", "type": "quantitative", "scale": {"domain": [-13.95, -2.04], "range": [390.7, 41.7], "nice": false, "zero": false},
            "axis": {"orient": "left", "offset": -77, "values": [-12, -10, -8, -6, -4], "labelPadding": 8.7, "labelFontSize": 19, "labelAngle": 270, "labelAlign": "center", "labelBaseline": "alphabetic", "labelExpr": "datum.value + ''", "title": "Minimum Temperature", "titleX": -33.3, "titleY": 196, "titleAngle": 270, "titleAlign": "center", "titleBaseline": "alphabetic", "titleFontSize": 28.5}}}},
    {"data": {"name": "p2_fit"}, "mark": {"type": "line", "color": "#2b0c0c", "strokeWidth": 3},
     "encoding": {
      "x": {"field": "nao", "type": "quantitative", "scale": {"domain": [-4.93, 3.93], "range": [77, 464.7], "nice": false, "zero": false}, "axis": {"orient": "top", "offset": -41.7, "labels": false, "ticks": false, "title": "Craibstone", "titleFontWeight": "bold", "titleFontSize": 27.5, "titleColor": "#000", "titleX": 279.5, "titleY": -15, "titleAlign": "center", "titleBaseline": "alphabetic", "titleAngle": 0}},
      "y": {"field": "tmin", "type": "quantitative", "scale": {"domain": [-13.95, -2.04], "range": [390.7, 41.7], "nice": false, "zero": false}, "axis": {"orient": "right", "offset": -21.3, "labels": false, "ticks": false, "title": null}}}}
   ]},
  {"width": 491, "height": 490,
   "resolve": {"axis": {"x": "independent", "y": "independent"}},
   "layer": [
    {"data": {"name": "p3_pts"}, "mark": {"type": "point", "shape": "circle", "filled": false, "size": 30, "stroke": "#333", "strokeWidth": 1, "opacity": 1},
     "encoding": {
      "x": {"field": "nao", "type": "quantitative", "scale": {"domain": [-5.05, 3.95], "range": [73, 450.3], "nice": false, "zero": false},
            "axis": {"orient": "bottom", "offset": -102.3, "values": [-4, -2, 0, 2], "labelPadding": 25.3, "labelFontSize": 24, "labelBaseline": "alphabetic", "labelExpr": "datum.value + ''", "title": "North Atlantic Oscillation Index", "titleX": 262.8, "titleY": 59, "titleAlign": "center", "titleBaseline": "alphabetic", "titleAngle": 0, "titleFontSize": 27.5}},
      "y": {"field": "tmin", "type": "quantitative", "scale": {"domain": [-14.46, -1.74], "range": [387.7, 48.3], "nice": false, "zero": false},
            "axis": {"orient": "left", "offset": -73, "values": [-14, -12, -10, -8, -6, -4, -2], "labelPadding": 7.3, "labelFontSize": 20, "labelAngle": 270, "labelAlign": "center", "labelBaseline": "alphabetic", "labelExpr": "datum.value + ''", "title": "Minimum Temperature", "titleX": -37.7, "titleY": 223, "titleAngle": 270, "titleAlign": "center", "titleBaseline": "alphabetic", "titleFontSize": 28}}}},
    {"data": {"name": "p3_fit"}, "mark": {"type": "line", "color": "#2b0c0c", "strokeWidth": 3},
     "encoding": {
      "x": {"field": "nao", "type": "quantitative", "scale": {"domain": [-5.05, 3.95], "range": [73, 450.3], "nice": false, "zero": false}, "axis": {"orient": "top", "offset": -48.3, "labels": false, "ticks": false, "title": "Leuchars", "titleFontWeight": "bold", "titleFontSize": 27.5, "titleColor": "#000", "titleX": 238, "titleY": -20.6, "titleAlign": "center", "titleBaseline": "alphabetic", "titleAngle": 0}},
      "y": {"field": "tmin", "type": "quantitative", "scale": {"domain": [-14.46, -1.74], "range": [387.7, 48.3], "nice": false, "zero": false}, "axis": {"orient": "right", "offset": -40.7, "labels": false, "ticks": false, "title": null}}}}
   ]},
  {"width": 462, "height": 490,
   "resolve": {"axis": {"x": "independent", "y": "independent"}},
   "layer": [
    {"data": {"name": "p4_pts"}, "mark": {"type": "point", "shape": "circle", "filled": false, "size": 30, "stroke": "#333", "strokeWidth": 1, "opacity": 1},
     "encoding": {
      "x": {"field": "nao", "type": "quantitative", "scale": {"domain": [-5.07, 4.72], "range": [76.3, 451.7], "nice": false, "zero": false},
            "axis": {"orient": "bottom", "offset": -119, "values": [-4, -2, 0, 2, 4], "labelPadding": 28.7, "labelFontSize": 24, "labelBaseline": "alphabetic", "labelExpr": "datum.value + ''", "title": "North Atlantic Oscillation Index", "titleX": 264, "titleY": 62.5, "titleAlign": "center", "titleBaseline": "alphabetic", "titleAngle": 0, "titleFontSize": 27.5}},
      "y": {"field": "tmin", "type": "quantitative", "scale": {"domain": [-12.17, -0.46], "range": [371, 36], "nice": false, "zero": false},
            "axis": {"orient": "left", "offset": -76.3, "values": [-12, -10, -8, -6, -4, -2], "labelPadding": 3.6, "labelFontSize": 22, "labelAngle": 270, "labelAlign": "center", "labelBaseline": "alphabetic", "labelExpr": "datum.value + ''", "title": "Minimum Temperature", "titleX": -27.3, "titleY": 228, "titleAngle": 270, "titleAlign": "center", "titleBaseline": "alphabetic", "titleFontSize": 27.5}}}},
    {"data": {"name": "p4_fit"}, "mark": {"type": "line", "color": "#2b0c0c", "strokeWidth": 3},
     "encoding": {
      "x": {"field": "nao", "type": "quantitative", "scale": {"domain": [-5.07, 4.72], "range": [76.3, 451.7], "nice": false, "zero": false}, "axis": {"orient": "top", "offset": -36, "labels": false, "ticks": false, "title": "Stornoway", "titleFontWeight": "bold", "titleFontSize": 27.5, "titleColor": "#000", "titleX": 270.7, "titleY": -17.7, "titleAlign": "center", "titleBaseline": "alphabetic", "titleAngle": 0}},
      "y": {"field": "tmin", "type": "quantitative", "scale": {"domain": [-12.17, -0.46], "range": [371, 36], "nice": false, "zero": false}, "axis": {"orient": "right", "offset": -10.3, "labels": false, "ticks": false, "title": null}}}}
   ]}
 ]},
 {"spacing": 0, "hconcat": [
  {"width": 479, "height": 503,
   "resolve": {"axis": {"x": "independent", "y": "independent"}},
   "layer": [
    {"data": {"name": "p5_pts"}, "mark": {"type": "point", "shape": "circle", "filled": false, "size": 30, "stroke": "#333", "strokeWidth": 1, "opacity": 1},
     "encoding": {
      "x": {"field": "nao", "type": "quantitative", "scale": {"domain": [-4.99, 4.42], "range": [75.3, 453.3], "nice": false, "zero": false},
            "axis": {"orient": "bottom", "offset": -124, "values": [-4, -2, 0, 2, 4], "labelPadding": 26.3, "labelFontSize": 24, "labelBaseline": "alphabetic", "labelExpr": "datum.value == 4 ? '' : datum.value + ''", "title": "North Atlantic Oscillation Index", "titleX": 258.8, "titleY": 60.5, "titleAlign": "center", "titleBaseline": "alphabetic", "titleAngle": 0, "titleFontSize": 27}},
      "y": {"field": "tmin", "type": "quantitative", "scale": {"domain": [-13.2, -2.31], "range": [379, 44.7], "nice": false, "zero": false},
            "axis": {"orient": "left", "offset": -75.3, "values": [-12, -10, -8, -6, -4], "labelPadding": 1.5, "labelFontSize": 23, "labelAngle": 270, "labelAlign": "center", "labelBaseline": "alphabetic", "labelExpr": "datum.value + ''", "title": "Minimum Temperature", "titleX": -40.6, "titleY": 209.8, "titleAngle": 270, "titleAlign": "center", "titleBaseline": "alphabetic", "titleFontSize": 26.5}}}},
    {"data": {"name": "p5_fit"}, "mark": {"type": "line", "color": "#2b0c0c", "strokeWidth": 3},
     "encoding": {
      "x": {"field": "nao", "type": "quantitative", "scale": {"domain": [-4.99, 4.42], "range": [75.3, 453.3], "nice": false, "zero": false}, "axis": {"orient": "top", "offset": -44.7, "labels": false, "ticks": false, "title": "Wick", "titleFontWeight": "bold", "titleFontSize": 27.5, "titleColor": "#000", "titleX": 247, "titleY": -22.4, "titleAlign": "center", "titleBaseline": "alphabetic", "titleAngle": 0}},
      "y": {"field": "tmin", "type": "quantitative", "scale": {"domain": [-13.2, -2.31], "range": [379, 44.7], "nice": false, "zero": false}, "axis": {"orient": "right", "offset": -25.7, "labels": false, "ticks": false, "title": null}}}}
   ]},
  {"width": 486, "height": 503,
   "resolve": {"axis": {"x": "independent", "y": "independent"}},
   "layer": [
    {"data": {"name": "p6_pts"}, "mark": {"type": "point", "shape": "circle", "filled": false, "size": 30, "stroke": "#333", "strokeWidth": 1, "opacity": 1},
     "encoding": {
      "x": {"field": "nao", "type": "quantitative", "scale": {"domain": [-4.98, 4.54], "range": [76.7, 469.3], "nice": false, "zero": false},
            "axis": {"orient": "bottom", "offset": -109.7, "values": [-4, -2, 0, 2, 4], "labelPadding": 21.4, "labelFontSize": 24, "labelBaseline": "alphabetic", "labelExpr": "datum.value == 4 ? '' : datum.value + ''", "title": "North Atlantic Oscillation Index", "titleX": 266, "titleY": 54, "titleAlign": "center", "titleBaseline": "alphabetic", "titleAngle": 0, "titleFontSize": 27.5}},
      "y": {"field": "tmin", "type": "quantitative", "scale": {"domain": [-17.62, -2.22], "range": [393.3, 41], "nice": false, "zero": false},
            "axis": {"orient": "left", "offset": -76.7, "values": [-16, -14, -12, -10, -8, -6, -4], "labelPadding": 7.7, "labelFontSize": 23, "labelAngle": 270, "labelAlign": "center", "labelBaseline": "alphabetic", "labelExpr": "datum.value + ''", "title": "Minimum Temperature", "titleX": -41.4, "titleY": 227.3, "titleAngle": 270, "titleAlign": "center", "titleBaseline": "alphabetic", "titleFontSize": 27.5}}}},
    {"data": {"name": "p6_fit"}, "mark": {"type": "line", "color": "#2b0c0c", "strokeWidth": 3},
     "encoding": {
      "x": {"field": "nao", "type": "quantitative", "scale": {"domain": [-4.98, 4.54], "range": [76.7, 469.3], "nice": false, "zero": false}, "axis": {"orient": "top", "offset": -41, "labels": false, "ticks": false, "title": "Rothampsted", "titleFontWeight": "bold", "titleFontSize": 27.5, "titleColor": "#000", "titleX": 267.5, "titleY": -18, "titleAlign": "center", "titleBaseline": "alphabetic", "titleAngle": 0}},
      "y": {"field": "tmin", "type": "quantitative", "scale": {"domain": [-17.62, -2.22], "range": [393.3, 41], "nice": false, "zero": false}, "axis": {"orient": "right", "offset": -16.7, "labels": false, "ticks": false, "title": null}}}}
   ]},
  {"width": 491, "height": 503,
   "resolve": {"axis": {"x": "independent", "y": "independent"}},
   "layer": [
    {"data": {"name": "p7_pts"}, "mark": {"type": "point", "shape": "circle", "filled": false, "size": 30, "stroke": "#333", "strokeWidth": 1, "opacity": 1},
     "encoding": {
      "x": {"field": "nao", "type": "quantitative", "scale": {"domain": [-5.0, 4.6], "range": [91.3, 477.7], "nice": false, "zero": false},
            "axis": {"orient": "bottom", "offset": -114.7, "values": [-4, -2, 0, 2, 4], "labelPadding": 35.4, "labelFontSize": 24, "labelBaseline": "alphabetic", "labelExpr": "datum.value == 4 ? '' : datum.value + ''", "title": "North Atlantic Oscillation Index", "titleX": 277.5, "titleY": 70, "titleAlign": "center", "titleBaseline": "alphabetic", "titleAngle": 0, "titleFontSize": 28.5}},
      "y": {"field": "tmin", "type": "quantitative", "scale": {"domain": [-17.22, -0.88], "range": [388.3, 56.7], "nice": false, "zero": false},
            "axis": {"orient": "left", "offset": -91.3, "values": [-15, -10, -5], "labelPadding": 7.3, "labelFontSize": 22, "labelAngle": 270, "labelAlign": "center", "labelBaseline": "alphabetic", "labelExpr": "datum.value + ''", "title": "Minimum Temperature", "titleX": -56, "titleY": 211.5, "titleAngle": 270, "titleAlign": "center", "titleBaseline": "alphabetic", "titleFontSize": 28.5}}}},
    {"data": {"name": "p7_fit"}, "mark": {"type": "line", "color": "#2b0c0c", "strokeWidth": 3},
     "encoding": {
      "x": {"field": "nao", "type": "quantitative", "scale": {"domain": [-5.0, 4.6], "range": [91.3, 477.7], "nice": false, "zero": false}, "axis": {"orient": "top", "offset": -56.7, "labels": false, "ticks": false, "title": "Oxford", "titleFontWeight": "bold", "titleFontSize": 27.5, "titleColor": "#000", "titleX": 280.8, "titleY": -24.4, "titleAlign": "center", "titleBaseline": "alphabetic", "titleAngle": 0}},
      "y": {"field": "tmin", "type": "quantitative", "scale": {"domain": [-17.22, -0.88], "range": [388.3, 56.7], "nice": false, "zero": false}, "axis": {"orient": "right", "offset": -13.3, "labels": false, "ticks": false, "title": null}}}}
   ]},
  {"width": 462, "height": 503,
   "resolve": {"axis": {"x": "independent", "y": "independent"}},
   "layer": [
    {"data": {"name": "p8_pts"}, "mark": {"type": "point", "shape": "circle", "filled": false, "size": 30, "stroke": "#333", "strokeWidth": 1, "opacity": 1},
     "encoding": {
      "x": {"field": "nao", "type": "quantitative", "scale": {"domain": [-4.95, 3.93], "range": [76.7, 452], "nice": false, "zero": false},
            "axis": {"orient": "bottom", "offset": -134, "values": [-4, -2, 0, 2], "labelPadding": 30.3, "labelFontSize": 24, "labelBaseline": "alphabetic", "labelExpr": "datum.value + ''", "title": "North Atlantic Oscillation Index", "titleX": 269.5, "titleY": 63.3, "titleAlign": "center", "titleBaseline": "alphabetic", "titleAngle": 0, "titleFontSize": 27.5}},
      "y": {"field": "tmin", "type": "quantitative", "scale": {"domain": [-10.22, 1.56], "range": [369, 33.3], "nice": false, "zero": false},
            "axis": {"orient": "left", "offset": -76.7, "values": [-10, -8, -6, -4, -2, 0], "labelPadding": 5.7, "labelFontSize": 24, "labelAngle": 270, "labelAlign": "center", "labelBaseline": "alphabetic", "labelExpr": "datum.value + ''", "title": "Minimum Temperature", "titleX": -40.4, "titleY": 197.3, "titleAngle": 270, "titleAlign": "center", "titleBaseline": "alphabetic", "titleFontSize": 27}}}},
    {"data": {"name": "p8_fit"}, "mark": {"type": "line", "color": "#2b0c0c", "strokeWidth": 3},
     "encoding": {
      "x": {"field": "nao", "type": "quantitative", "scale": {"domain": [-4.95, 3.93], "range": [76.7, 452], "nice": false, "zero": false}, "axis": {"orient": "top", "offset": -33.3, "labels": false, "ticks": false, "title": "Hastings", "titleFontWeight": "bold", "titleFontSize": 27.5, "titleColor": "#000", "titleX": 264.5, "titleY": -9.3, "titleAlign": "center", "titleBaseline": "alphabetic", "titleAngle": 0}},
      "y": {"field": "tmin", "type": "quantitative", "scale": {"domain": [-10.22, 1.56], "range": [369, 33.3], "nice": false, "zero": false}, "axis": {"orient": "right", "offset": -10, "labels": false, "ticks": false, "title": null}}}}
   ]}
 ]}
]
}
